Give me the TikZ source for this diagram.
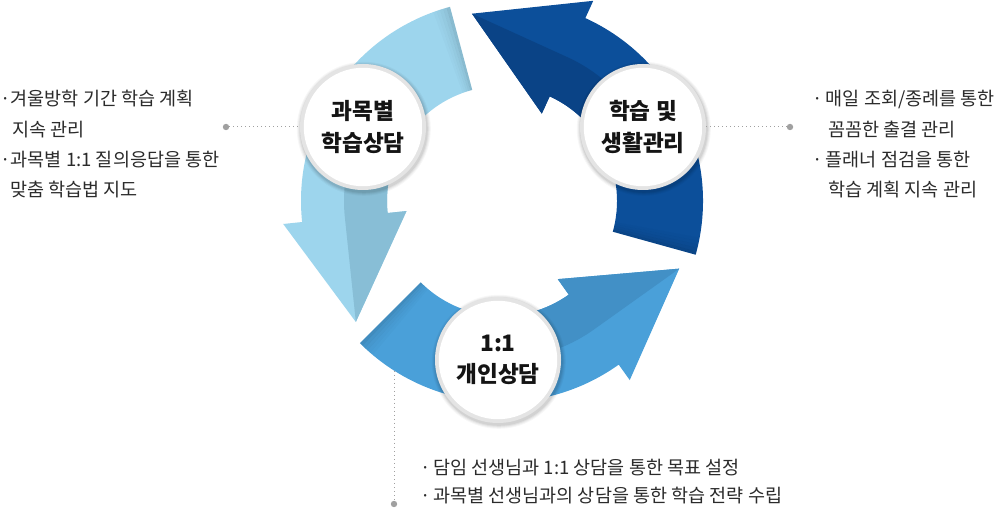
\documentclass[tikz,border=0pt]{standalone}
\usepackage{fontspec}
\newfontfamily\krfont{Noto Sans CJK KR}
\usetikzlibrary{calc}
\definecolor{lbA}{HTML}{9DD5ED}
\definecolor{lbB}{HTML}{88BED6}
\definecolor{mbA}{HTML}{4AA0D9}
\definecolor{mbB}{HTML}{4290C6}
\definecolor{dbA}{HTML}{0C4F9A}
\definecolor{dbB}{HTML}{0A4386}
\definecolor{ringgray}{HTML}{E4E4E4}
\definecolor{discedge}{HTML}{ECECEC}
\definecolor{dotgray}{HTML}{A0A0A0}
\definecolor{textgray}{HTML}{2B2B2B}
\pgfdeclareradialshading{discshade}{\pgfpoint{0bp}{6bp}}{color(0bp)=(white); color(34bp)=(white); color(50bp)=(discedge)}
\newcommand\ringarrow[4]{%
  \fill[#3] ($(C)+(#1:201)$) arc[start angle=#1, end angle=#2, radius=201]
    -- ($(C)+(#2:220)$) -- ($(C)+(#2:158)+(#2+90:105)$) -- ($(C)+(#2:96)$)
    -- ($(C)+(#2:115)$) arc[start angle=#2, end angle=#1, radius=115] -- cycle;
  \fill[#4] ($(C)+(#2:158)+(#2+90:105)$) -- ($(C)+(#2:96)$) -- ($(C)+(#2:115)$)
    arc[start angle=#2, end angle=#2-50, radius=115] -- ($(C)+(#2-50:158)$)
    arc[start angle=#2-50, end angle=#2, radius=158] -- cycle;
  \foreach \k/\o in {0/0.12,1/0.08,2/0.05,3/0.03,4/0.015}{%
    \fill[black,opacity=\o] ($(C)+(#1+\k:201)$) arc[start angle=#1+\k, end angle=#1+\k+1, radius=201]
      -- ($(C)+(#1+\k+1:115)$) arc[start angle=#1+\k+1, end angle=#1+\k, radius=115] -- cycle;}%
}
\newcommand\bubbleshadow[1]{%
  \foreach \r/\o in {67/0.03,66/0.04,65/0.05,64/0.06}{%
    \fill[black,opacity=\o] ($(#1)+(0.8,-1.8)$) circle[radius=\r];}%
}
\newcommand\bul[1]{\makebox[#1][c]{·}}
\begin{document}
\begin{tikzpicture}[x=0.75pt,y=0.75pt,
  side/.style={anchor=base west, inner sep=0pt, font=\krfont\fontsize{13.9pt}{16pt}\selectfont, text=textgray},
  dotline/.style={draw=dotgray, line width=0.75pt, dash pattern=on 0.75pt off 2.25pt},
  dotmark/.style={circle, fill=dotgray, inner sep=0pt, minimum size=4.8pt},
  bubble/.style={circle, minimum size=94.5pt, inner sep=0pt, fill=ringgray, align=center,
    font=\krfont\bfseries\fontsize{17pt}{23.5pt}\selectfont, text=black!92,
    path picture={\shade[shading=discshade] (path picture bounding box.center) circle (44.4pt);}},
]
\useasboundingbox (0,0) rectangle (998,510);
\fill[white] (0,0) rectangle (998,510);
\coordinate (C) at (502,309);
\coordinate (pL) at (363,383);
\coordinate (pR) at (643,383);
\coordinate (pB) at (498,150);

% arrows
\ringarrow{105}{186}{lbA}{lbB}
\ringarrow{225}{305.5}{mbA}{mbB}
\ringarrow{-15.5}{65.5}{dbA}{dbB}

% circles
\bubbleshadow{pL}
\bubbleshadow{pR}
\bubbleshadow{pB}
\node[bubble] (cL) at (pL) {과목별\\학습상담};
\node[bubble] (cR) at (pR) {학습 및\\생활관리};
\node[bubble] (cB) at (pB) {1:1\\개인상담};

% connectors
\node[dotmark] (dL) at (226,383) {};
\node[dotmark] (dR) at (790,383) {};
\node[dotmark] (dB) at (394,6) {};
\coordinate (aB) at (394,139);
\draw[dotline] (dL) -- (cL.west);
\draw[dotline] (cR.east) -- (dR);
\draw[dotline] (aB) -- (dB);

% texts
\node[side] (l1) at (0,404) {\bul{7.9pt}겨울방학 기간 학습 계획};
\node[side] (l2) at (12,373) {지속 관리};
\node[side] (l3) at (0,343) {\bul{7.9pt}과목별 1:1 질의응답을 통한};
\node[side] (l4) at (10,313) {맞춤 학습법 지도};
\node[side] (r1) at (809,404) {\bul{12.4pt}매일 조회/종례를 통한};
\node[side] (r2) at (828,373) {꼼꼼한 출결 관리};
\node[side] (r3) at (809,343) {\bul{12.4pt}플래너 점검을 통한};
\node[side] (r4) at (828,313) {학습 계획 지속 관리};
\node[side] (b1) at (417,36) {\bul{12pt}담임 선생님과 1:1 상담을 통한 목표 설정};
\node[side] (b2) at (417,8) {\bul{12pt}과목별 선생님과의 상담을 통한 학습 전략 수립};
\end{tikzpicture}
\end{document}
